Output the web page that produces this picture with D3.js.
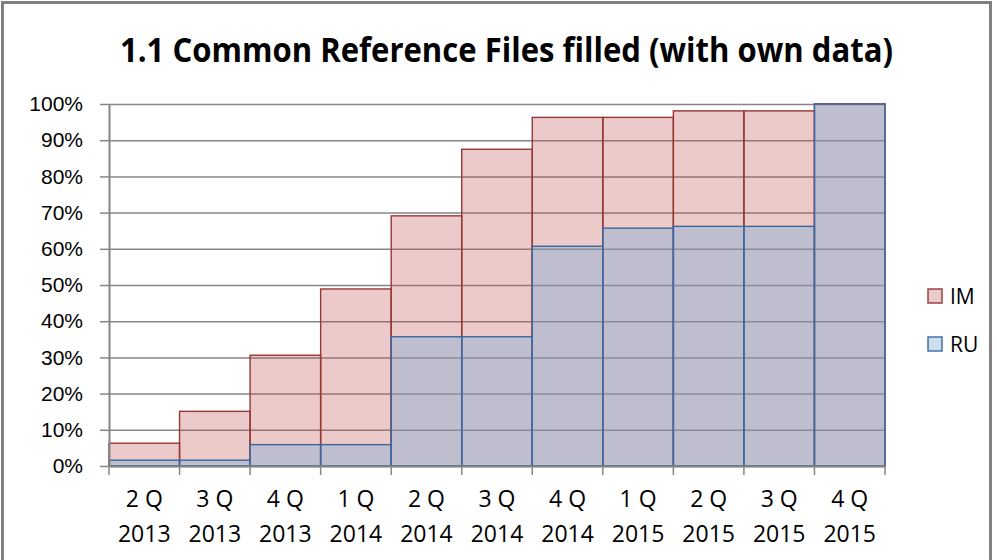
<!DOCTYPE html>
<html>
<head>
<meta charset="utf-8">
<script src="https://cdn.jsdelivr.net/npm/d3@7"></script>
<style>
  body { margin: 0; background: #fff; }
  svg { display: block; }
</style>
</head>
<body>
<svg id="chart"></svg>
<script>
// quarters shown on the x axis (two lines each)
let quarters = ["2 Q", "3 Q", "4 Q", "1 Q", "2 Q", "3 Q", "4 Q", "1 Q", "2 Q", "3 Q", "4 Q"];
let years = ["2013", "2013", "2013", "2014", "2014", "2014", "2014", "2015", "2015", "2015", "2015"];

// share of files filled, per series
let imValues = [0.063, 0.151, 0.306, 0.489, 0.691, 0.875, 0.963, 0.963, 0.981, 0.981, 1.0];
let ruValues = [0.016, 0.016, 0.059, 0.059, 0.357, 0.357, 0.607, 0.657, 0.662, 0.662, 1.0];

let yTicks = [0, 0.1, 0.2, 0.3, 0.4, 0.5, 0.6, 0.7, 0.8, 0.9, 1.0];
let seriesNames = ["IM", "RU"];

let width = 997, height = 560;
let plot = { left: 109, right: 885, top: 104, bottom: 466 };

let svg = d3.select("#chart")
  .attr("width", width)
  .attr("height", height);

// outer chart frame
svg.append("rect")
  .attr("x", 2.5).attr("y", 2.5)
  .attr("width", 988).attr("height", 620)
  .attr("fill", "none")
  .attr("stroke", "#808080")
  .attr("stroke-width", 3);

svg.append("text")
  .attr("x", 120).attr("y", 62)
  .attr("textLength", 773)
  .attr("lengthAdjust", "spacingAndGlyphs")
  .style("font-family", "'Open Sans', sans-serif")
  .style("font-weight", "bold")
  .style("font-size", "34px")
  .attr("fill", "#000")
  .text("1.1 Common Reference Files filled (with own data)");

let idx = d3.range(quarters.length);

let x = d3.scaleBand()
  .domain(idx)
  .range([plot.left, plot.right])
  .padding(0);

let y = d3.scaleLinear()
  .domain([0, 1])
  .range([plot.bottom, plot.top]);

// gridlines
svg.append("g")
  .attr("transform", `translate(${plot.left},0)`)
  .call(d3.axisLeft(y).tickValues(yTicks).tickSize(-(plot.right - plot.left)).tickFormat(""))
  .call(g => g.select(".domain").remove())
  .selectAll("line")
  .attr("stroke", "#868686")
  .attr("stroke-width", 1.5);

let series = [
  { name: seriesNames[0], values: imValues, fill: "rgb(192,80,77)", opacity: 0.3, stroke: "#953735" },
  { name: seriesNames[1], values: ruValues, fill: "rgb(126,172,217)", opacity: 0.4, stroke: "#3a679f" }
];

series.forEach(s => {
  svg.append("g")
    .selectAll("rect")
    .data(idx)
    .join("rect")
    .attr("x", i => x(i))
    .attr("y", i => y(s.values[i]))
    .attr("width", x.bandwidth())
    .attr("height", i => y(0) - y(s.values[i]))
    .attr("fill", s.fill)
    .attr("fill-opacity", s.opacity)
    .attr("stroke", s.stroke)
    .attr("stroke-width", 1.4);
});

// y axis
let yAxis = svg.append("g")
  .attr("transform", `translate(${plot.left},0)`)
  .call(d3.axisLeft(y).tickValues(yTicks).tickFormat(d3.format(".0%")).tickSize(9).tickSizeOuter(0).tickPadding(17));
yAxis.select(".domain").attr("stroke", "#868686").attr("stroke-width", 2);
yAxis.selectAll("line").attr("stroke", "#868686").attr("stroke-width", 1.5);
yAxis.selectAll("text")
  .style("font-family", "'Liberation Sans', Arial, sans-serif")
  .style("font-size", "21px")
  .attr("fill", "#000");

// x axis
let xAxis = svg.append("g")
  .attr("transform", `translate(0,${plot.bottom})`)
  .call(d3.axisBottom(x).tickSize(0).tickSizeOuter(0).tickFormat(""));
xAxis.select(".domain").attr("stroke", "#868686").attr("stroke-width", 2);

// boundary tick marks between categories
svg.append("g")
  .selectAll("line")
  .data(d3.range(quarters.length + 1))
  .join("line")
  .attr("x1", i => plot.left + i * x.step())
  .attr("x2", i => plot.left + i * x.step())
  .attr("y1", plot.bottom)
  .attr("y2", plot.bottom + 9)
  .attr("stroke", "#868686")
  .attr("stroke-width", 1.5);

let labels = svg.append("g")
  .selectAll("text")
  .data(idx)
  .join("text")
  .attr("x", i => x(i) + x.bandwidth() / 2)
  .attr("text-anchor", "middle")
  .style("font-family", "'Open Sans', sans-serif")
  .style("font-size", "23px")
  .attr("fill", "#000");
labels.append("tspan")
  .attr("x", i => x(i) + x.bandwidth() / 2)
  .attr("y", 507)
  .text(i => quarters[i]);
labels.append("tspan")
  .attr("x", i => x(i) + x.bandwidth() / 2)
  .attr("y", 542)
  .text(i => years[i]);

// legend
let legend = svg.append("g")
  .selectAll("g")
  .data(series)
  .join("g")
  .attr("transform", (d, i) => `translate(928,${289 + i * 48})`);
legend.append("rect")
  .attr("width", 14).attr("height", 14)
  .attr("fill", "#fff");
legend.append("rect")
  .attr("width", 14).attr("height", 14)
  .attr("fill", d => d.fill)
  .attr("fill-opacity", d => d.opacity)
  .attr("stroke", d => d.stroke)
  .attr("stroke-width", 1.4);
legend.append("text")
  .attr("x", 22).attr("y", 15)
  .style("font-family", "'Open Sans', sans-serif")
  .style("font-size", "21px")
  .attr("fill", "#000")
  .text(d => d.name);
</script>
</body>
</html>
